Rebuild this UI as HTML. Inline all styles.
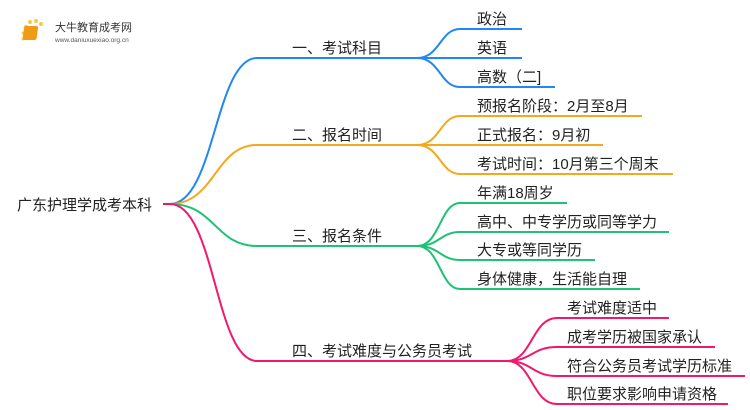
<!DOCTYPE html>
<html><head><meta charset="utf-8"><style>
body{margin:0;background:#fff;}
svg{display:block;}
text{font-family:"Liberation Sans","Noto Sans CJK SC",sans-serif;fill:#222;}
</style></head><body>
<svg width="750" height="410" viewBox="0 0 750 410" xmlns="http://www.w3.org/2000/svg">
<g>
<circle cx="26" cy="27" r="2" fill="#f8c84a"/><circle cx="30" cy="22" r="2" fill="#f8c84a"/><circle cx="36" cy="21" r="2" fill="#f8c84a"/><circle cx="41" cy="24" r="2" fill="#f8c84a"/><circle cx="23" cy="33" r="1.5" fill="#f8c84a"/><circle cx="23" cy="39" r="1.5" fill="#f8c84a"/>
<rect x="28" y="26" width="14" height="14" rx="2" fill="#f09a1a" transform="skewX(-8)"/>
<text x="55" y="31" font-size="11" style="fill:#333">大牛教育成考网</text>
<text x="55" y="42" font-size="6.5" style="fill:#555">www.daniuxuexiao.org.cn</text>
</g>
<text x="17" y="210" font-size="15">广东护理学成考本科</text>
<g fill="none" stroke-width="2">
<path d="M163 204 H170" stroke="#e8194f"/>
<path d="M170 204 C215 204 215 58 257 58 H417" stroke="#2088f0"/>
<path d="M170 204 C215 204 215 145 257 145 H417" stroke="#f5a81c"/>
<path d="M170 204 C215 204 215 246 257 246 H417" stroke="#1ec277"/>
<path d="M170 204 C215 204 215 361 257 361 H507" stroke="#f0196e"/>
<path d="M417 58 C440 58 440 29 460 29 H522 M417 58 H522 M417 58 C440 58 440 87 460 87 H555" stroke="#2088f0"/>
<path d="M417 145 C440 145 440 116 460 116 H642 M417 145 H603 M417 145 C440 145 440 174 460 174 H673" stroke="#f5a81c"/>
<path d="M417 246 C440 246 440 203 460 203 H567 M417 246 C440 246 440 232 460 232 H669 M417 246 C440 246 440 260 460 260 H595 M417 246 C440 246 440 289 460 289 H640" stroke="#1ec277"/>
<path d="M507 361 C532 361 532 318 557 318 H669 M507 361 C532 361 532 347 557 347 H715 M507 361 C532 361 532 376 557 376 H745 M507 361 C532 361 532 404 557 404 H728" stroke="#f0196e"/>
</g>
<g font-size="15">
<text x="292" y="53">一、考试科目</text>
<text x="292" y="140">二、报名时间</text>
<text x="292" y="241">三、报名条件</text>
<text x="292" y="356">四、考试难度与公务员考试</text>
<text x="477" y="24">政治</text>
<text x="477" y="53">英语</text>
<text x="477" y="82">高数（二]</text>
<text x="477" y="111">预报名阶段：2月至8月</text>
<text x="477" y="140">正式报名：9月初</text>
<text x="477" y="169">考试时间：10月第三个周末</text>
<text x="477" y="198">年满18周岁</text>
<text x="477" y="227">高中、中专学历或同等学力</text>
<text x="477" y="255">大专或等同学历</text>
<text x="477" y="284">身体健康，生活能自理</text>
<text x="567" y="313">考试难度适中</text>
<text x="567" y="342">成考学历被国家承认</text>
<text x="567" y="371">符合公务员考试学历标准</text>
<text x="567" y="399">职位要求影响申请资格</text>
</g>
</svg>
</body></html>
